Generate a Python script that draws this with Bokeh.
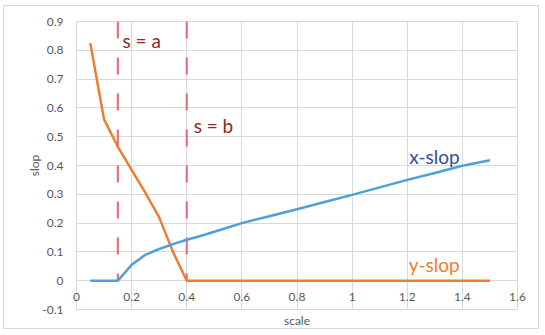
from bokeh.plotting import figure
from bokeh.models import Range1d, FixedTicker, Label, ColumnDataSource
from bokeh.embed import file_html
from bokeh.resources import INLINE

# ---- data ----
y_scale = [0.05, 0.1, 0.15, 0.2, 0.25, 0.3, 0.35, 0.4, 0.5, 0.6, 0.7, 0.8, 0.9, 1.0, 1.1, 1.2, 1.3, 1.4, 1.5]
y_slop = [0.825, 0.56, 0.465, 0.385, 0.305, 0.22, 0.10, 0.0, 0, 0, 0, 0, 0, 0, 0, 0, 0, 0, 0]

x_scale = [0.05, 0.1, 0.15, 0.2, 0.25, 0.3, 0.35, 0.4, 0.45, 0.5, 0.6, 0.7, 0.8, 0.9, 1.0, 1.1, 1.2, 1.3, 1.4, 1.5]
x_slop = [0, 0, 0, 0.055, 0.09, 0.11, 0.127, 0.142, 0.155, 0.17, 0.2, 0.224, 0.248, 0.273, 0.298, 0.324, 0.35, 0.374, 0.399, 0.418]

marker_x = [0.15, 0.4]          # s = a, s = b
marker_names = ["s = a", "s = b"]
x_ticks = [0, 0.2, 0.4, 0.6, 0.8, 1.0, 1.2, 1.4, 1.6]
x_tick_labels = ["0", "0.2", "0.4", "0.6", "0.8", "1", "1.2", "1.4", "1.6"]
y_ticks = [-0.1, 0, 0.1, 0.2, 0.3, 0.4, 0.5, 0.6, 0.7, 0.8, 0.9]
y_tick_labels = ["-0.1", "0", "0.1", "0.2", "0.3", "0.4", "0.5", "0.6", "0.7", "0.8", "0.9"]

FONT = "Lato"
GRAY = "#595959"
GRID = "#D9D9D9"

p = figure(width=536, height=324, output_backend="svg", toolbar_location=None,
           x_range=Range1d(0, 1.6), y_range=Range1d(-0.1, 0.9),
           min_border_left=72, min_border_right=23, min_border_top=15, min_border_bottom=21)
p.styles = {"border": "1px solid #D9D9D9", "margin-left": "3px", "margin-top": "5px"}

p.outline_line_color = GRID
p.xgrid.grid_line_color = GRID
p.ygrid.grid_line_color = GRID
p.xgrid.ticker = FixedTicker(ticks=x_ticks)
p.ygrid.ticker = FixedTicker(ticks=y_ticks)

p.xaxis.ticker = FixedTicker(ticks=x_ticks)
p.xaxis.axis_line_color = None
p.xaxis.major_tick_line_color = None
p.xaxis.minor_tick_line_color = None
p.xaxis.major_label_standoff = -23
p.xaxis.major_label_text_font = FONT
p.xaxis.major_label_text_font_size = "12px"
p.xaxis.major_label_text_color = GRAY
p.xaxis.major_label_overrides = dict(zip(x_ticks, x_tick_labels))
p.xaxis.axis_label = "scale"
p.xaxis.axis_label_text_font = FONT
p.xaxis.axis_label_text_font_size = "12px"
p.xaxis.axis_label_text_font_style = "normal"
p.xaxis.axis_label_text_color = GRAY
p.xaxis.axis_label_standoff = 9

p.yaxis.ticker = FixedTicker(ticks=y_ticks)
p.yaxis.axis_line_color = None
p.yaxis.major_tick_line_color = None
p.yaxis.minor_tick_line_color = None
p.yaxis.major_label_standoff = 7
p.yaxis.major_label_text_font = FONT
p.yaxis.major_label_text_font_size = "12px"
p.yaxis.major_label_text_color = GRAY
p.yaxis.major_label_overrides = dict(zip(y_ticks, y_tick_labels))
p.yaxis.axis_label = "slop"
p.yaxis.axis_label_text_font = FONT
p.yaxis.axis_label_text_font_size = "12px"
p.yaxis.axis_label_text_font_style = "normal"
p.yaxis.axis_label_text_color = GRAY
p.yaxis.axis_label_standoff = -3

# vertical dashed markers
src = ColumnDataSource(dict(x=marker_x, y0=[0, 0], y1=[0.9, 0.9]))
p.segment(x0="x", y0="y1", x1="x", y1="y0", source=src, line_color="#F06272",
          line_width=2, line_dash="17 19")

p.line(y_scale, y_slop, line_color="#ED7D31", line_width=2.5)
p.line(x_scale, x_slop, line_color="#4EA0D8", line_width=2.5)

DARKRED = "#8C2A2A"
p.add_layout(Label(x=0.167, y=0.834, text=marker_names[0], text_font=FONT, text_font_size="19px",
                   text_color=DARKRED, text_baseline="middle"))
p.add_layout(Label(x=0.425, y=0.54, text=marker_names[1], text_font=FONT, text_font_size="19px",
                   text_color=DARKRED, text_baseline="middle"))
p.add_layout(Label(x=1.39, y=0.43, text="x-slop", text_font=FONT, text_font_size="19px",
                   text_color="#2F4D9E", text_align="right", text_baseline="middle"))
p.add_layout(Label(x=1.205, y=0.055, text="y-slop", text_font=FONT, text_font_size="19px",
                   text_color="#ED7D31", text_baseline="middle"))

open("out.html", "w").write(file_html(p, INLINE))
